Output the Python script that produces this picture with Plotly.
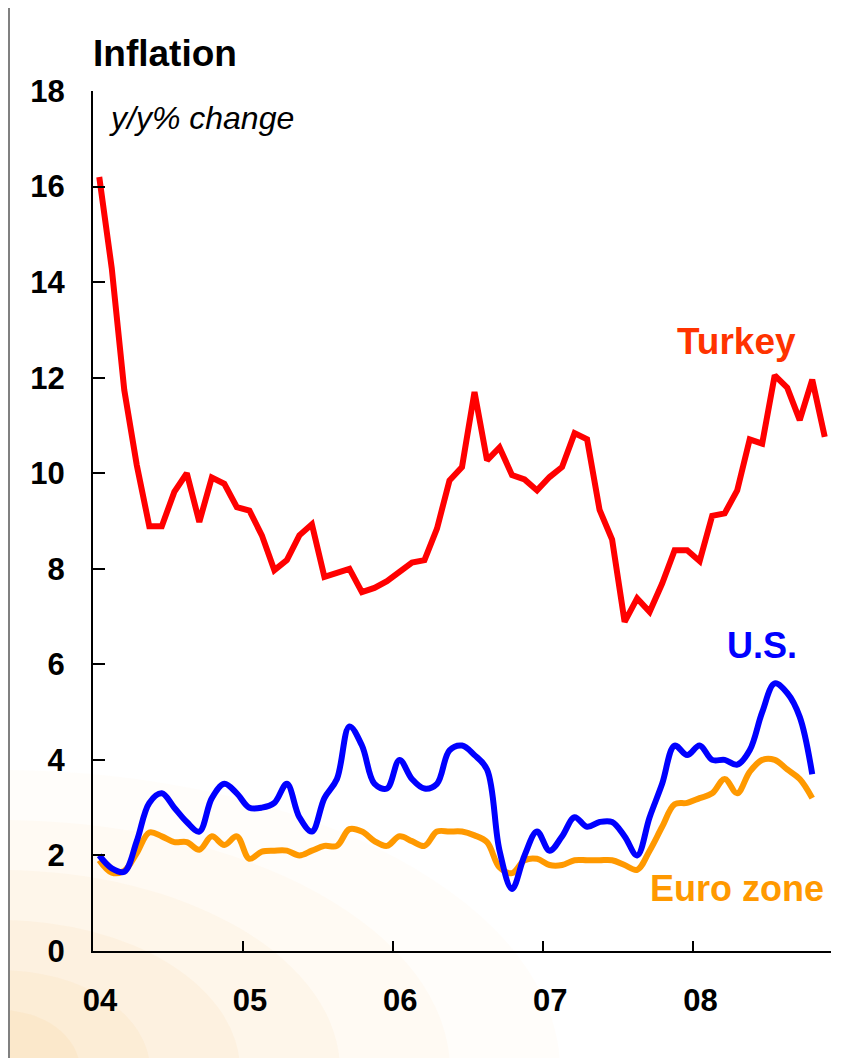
import plotly.graph_objects as go

# ---------------- data (monthly, Jan 2004 = month 0) ----------------
turkey = [16.2, 14.29, 11.74, 10.17, 8.89, 8.89, 9.61, 10.0, 8.98, 9.91, 9.78, 9.29,
          9.22, 8.70, 7.97, 8.18, 8.70, 8.93, 7.83, 7.91, 8.00, 7.51, 7.60, 7.74,
          7.95, 8.13, 8.18, 8.84, 9.85, 10.13, 11.70, 10.27, 10.54, 9.96, 9.87, 9.64,
          9.92, 10.13, 10.84, 10.71, 9.23, 8.61, 6.89, 7.38, 7.10, 7.69, 8.39, 8.39,
          8.16, 9.11, 9.16, 9.64, 10.71, 10.62, 12.05, 11.79, 11.11, 11.96, 10.76]

us = [2.0, 1.73, 1.66, 2.3, 3.1, 3.3, 3.0, 2.7, 2.5, 3.2, 3.5, 3.3,
      3.0, 3.0, 3.1, 3.5, 2.8, 2.5, 3.2, 3.6, 4.7, 4.3, 3.5, 3.4,
      4.0, 3.6, 3.4, 3.5, 4.2, 4.3, 4.1, 3.8, 2.1, 1.3, 2.0, 2.5,
      2.1, 2.4, 2.8, 2.6, 2.7, 2.7, 2.4, 2.0, 2.8, 3.5, 4.3, 4.1,
      4.3, 4.0, 4.0, 3.9, 4.2, 5.0, 5.6, 5.4, 4.9, 3.7]

euro = [1.9, 1.64, 1.68, 2.05, 2.48, 2.4, 2.28, 2.28, 2.12, 2.4, 2.22, 2.4,
        1.93, 2.08, 2.1, 2.1, 2.0, 2.1, 2.2, 2.2, 2.55, 2.5, 2.3, 2.2,
        2.4, 2.3, 2.2, 2.5, 2.5, 2.5, 2.42, 2.28, 1.75, 1.63, 1.9, 1.93,
        1.8, 1.8, 1.9, 1.9, 1.9, 1.9, 1.8, 1.7, 2.1, 2.6, 3.07, 3.1,
        3.2, 3.3, 3.6, 3.3, 3.75, 4.0, 4.0, 3.8, 3.6, 3.2]

year_ticks = [-0.5, 11.5, 23.5, 35.5, 47.5]
year_labels = ["04", "05", "06", "07", "08"]
y_ticks = [0, 2, 4, 6, 8, 10, 12, 14, 16, 18]

months_t = list(range(len(turkey)))
months_u = list(range(len(us)))
months_e = list(range(len(euro)))

FONT = "Liberation Sans, Arial, sans-serif"

# page body has an 8px margin; figure coordinates are page coordinates minus OFF
OFF = 8
W, H = 862 - OFF, 1058 - OFF
L, R, T, B = 93 - OFF, 31, 91 - OFF, 107
PW = W - L - R
PH = H - T - B


def px(x):
    """page pixel x -> paper coordinate"""
    return (x - OFF - L) / PW


def py(y):
    """page pixel y -> paper coordinate"""
    return (H - B - (y - OFF)) / PH


fig = go.Figure()

fig.add_trace(go.Scatter(x=months_e, y=euro, mode="lines", name="Euro zone",
                         line=dict(color="#FF9900", width=6, shape="spline", smoothing=1.0)))
fig.add_trace(go.Scatter(x=months_u, y=us, mode="lines", name="U.S.",
                         line=dict(color="#0000FF", width=6, shape="spline", smoothing=1.0)))
fig.add_trace(go.Scatter(x=months_t, y=turkey, mode="lines", name="Turkey",
                         line=dict(color="#FF0000", width=6)))

# faint background glow (bottom-left corner)
shapes = []
cx, cy = 0, 1070
for rx, ry, a in [(560, 300, 0.035), (450, 250, 0.045), (340, 200, 0.06),
                  (240, 150, 0.07), (150, 100, 0.08), (80, 60, 0.09)]:
    shapes.append(dict(type="circle", xref="paper", yref="paper", layer="below",
                       x0=px(cx - rx), x1=px(cx + rx), y0=py(cy + ry), y1=py(cy - ry),
                       fillcolor=f"rgba(245,190,100,{a})", line=dict(width=0)))
# frame lines
shapes.append(dict(type="line", xref="paper", yref="paper", x0=px(9), x1=px(9), y0=py(7), y1=py(1070),
                   line=dict(color="#808080", width=2)))
shapes.append(dict(type="line", xref="paper", yref="paper", x0=px(9), x1=px(870), y0=py(7), y1=py(7),
                   line=dict(color="#808080", width=2)))

annotations = [
    dict(text="<b>Inflation</b>", x=px(91), y=py(53.5), xanchor="left", yanchor="middle",
         font=dict(family=FONT, size=37, color="black")),
    dict(text="<i>y/y% change</i>", x=px(107), y=py(118), xanchor="left", yanchor="middle",
         font=dict(family=FONT, size=32, color="black")),
    dict(text="<b>Turkey</b>", x=px(675), y=py(341), xanchor="left", yanchor="middle",
         font=dict(family=FONT, size=37, color="#FF3300")),
    dict(text="<b>U.S.</b>", x=px(725), y=py(645), xanchor="left", yanchor="middle",
         font=dict(family=FONT, size=36, color="#0000FF")),
    dict(text="<b>Euro zone</b>", x=px(648), y=py(888), xanchor="left", yanchor="middle",
         font=dict(family=FONT, size=36, color="#FF9900")),
]
for a in annotations:
    a.update(xref="paper", yref="paper", showarrow=False)

fig.update_layout(
    width=W, height=H,
    margin=dict(l=L, r=R, t=T, b=B, pad=0),
    paper_bgcolor="white",
    plot_bgcolor="rgba(0,0,0,0)",
    showlegend=False,
    shapes=shapes,
    annotations=annotations,
    xaxis=dict(range=[-0.5, 58.5], tickvals=year_ticks, ticktext=year_labels,
               ticks="inside", ticklen=10, tickwidth=2, tickcolor="black",
               showline=True, linecolor="black", linewidth=2,
               showgrid=False, zeroline=False, ticklabelshift=7, ticklabelstandoff=21,
               tickfont=dict(family=FONT, size=31, color="black", weight="bold")),
    yaxis=dict(range=[0, 18], tickvals=y_ticks,
               ticks="inside", ticklen=12, tickwidth=2, tickcolor="black",
               showline=True, linecolor="black", linewidth=2,
               showgrid=False, zeroline=False, ticklabelstandoff=20,
               tickfont=dict(family=FONT, size=31, color="black", weight="bold")),
)

fig.write_html("out.html")
